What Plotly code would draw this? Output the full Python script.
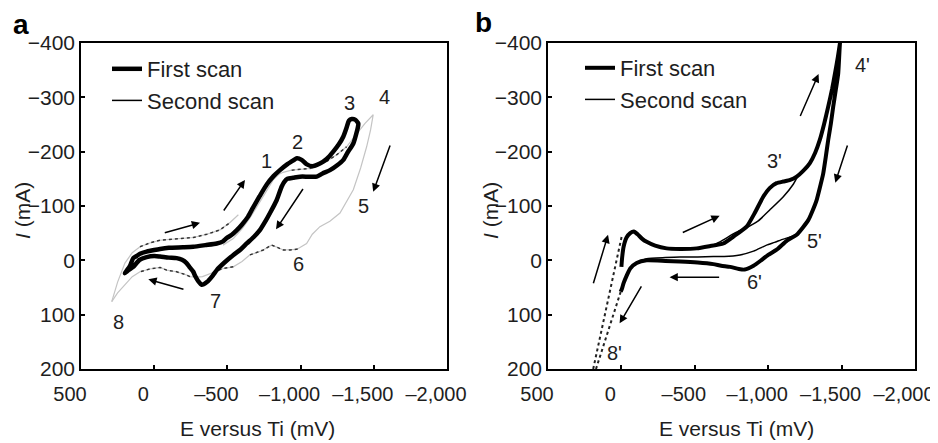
import plotly.graph_objects as go

# The page body adds an 8px margin; the figure is sized so the window shows it exactly.
PAGE_OFF = 8
W, H = 938 - PAGE_OFF, 443 - PAGE_OFF
FONT = "Liberation Sans, Arial, sans-serif"
INK = "#1e1e1e"

# ---------------- Panel a data ----------------
a_first_x = [200, 165, 143, 120, 97, 52, 0, -40, -100, -197, -267, -350, -427, -470, -495, -530, -563,
             -600, -640, -675, -720, -770, -815, -859, -910, -950, -975, -1007, -1040, -1080, -1132,
             -1180, -1223, -1260, -1292, -1315, -1330, -1350, -1372, -1394, -1392, -1387, -1360, -1320,
             -1292, -1250, -1201, -1150, -1110, -1050, -996, -950, -910, -890, -871, -837, -791, -760,
             -723, -680, -632, -590, -541, -480, -427, -400, -360, -324, -300, -280,
             -267, -240, -221, -190, -153, -100, -40, 0, 52, 100, 143, 175, 200]
a_first_y = [24, 10, -4, -8, -12, -16, -19, -21, -23, -24, -25, -28, -31, -35, -41, -47, -55,
             -66, -80, -97, -118, -140, -155, -166, -177, -184, -188, -185, -177, -173, -178,
             -187, -200, -213, -228, -245, -257, -260, -259, -252, -246, -240, -215, -198,
             -185, -175, -166, -160, -154, -154, -154, -152, -150, -145, -136, -111, -87, -72,
             -56, -43, -31, -20, -10, 4, 18, 28, 40, 45, 38, 29,
             21, 12, 5, -1, -4, -5, -7, -8, -6, -1, 12, 18, 24]

a_second_x = [290, 250, 200, 150, 97, 30, -40, -150, -267, -360, -449, -520, -575, None,
              -470, -540, -600, -654, -700, -745, -780, -813, -850, -880, -939, -1000, -1064, -1120,
              -1178, -1250, -1314, -1380, -1440, -1496, -1478, -1451, -1410, -1360, -1310, -1269,
              -1200, -1132, -1080, -1041, -973, -930, -882, -840, -802, -775, -745, -700, -654,
              -600, -540, -472, -420, -380, -330, -290, -244, -221, -153, -85, -40, 30, 97, 150,
              211, 250, 290]
a_second_y = [76, 40, 5, -14, -25, -32, -37, -40, -42, -48, -56, -70, -84, None,
              -28, -40, -58, -78, -98, -117, -133, -148, -158, -162, -166, -167, -169, -175,
              -182, -195, -209, -232, -252, -268, -240, -209, -170, -130, -105, -87,
              -72, -62, -48, -31, -20, -19, -19, -24, -28, -24, -19, -14, -10,
              2, 12, 15, 20, 24, 30, 31, 30, 27, 21, 18, 13, 16, 21, 30,
              48, 60, 76]

a_dot_x = [97, 30, -40, -150, -267, -360, -449, -520, None,
           -939, -1000, -1064, -1120, -1178, -1250, -1314, None,
           -654, -700, -745, -775, -802, -840, -882, -930, -990, None,
           -540, -472, -420, None,
           -244, -221, -153, -85, -40, 30, 97]
a_dot_y = [-25, -32, -37, -40, -42, -48, -56, -70, None,
           -166, -167, -169, -175, -182, -195, -209, None,
           -10, -14, -19, -24, -28, -24, -19, -19, -21, None,
           12, 15, 20, None,
           30, 27, 21, 18, 13, 16, 21]

a_lab_text = ["1", "2", "3", "4", "5", "6", "7", "8"]
a_lab_x = [-768, -980, -1333, -1576, -1433, -984, -422, 245]
a_lab_y = [-182, -218, -290, -300, -100, 7, 74, 113]

a_arrow_tail_x = [-62, -468, -1023, -1615, -210]
a_arrow_tail_y = [-50, -89, -134, -214, 54]
a_arrow_head_x = [-313, -620, -832, -1496, 40]
a_arrow_head_y = [-69, -148, -57, -126, 35]

# ---------------- Panel b data ----------------
b_first_x = [0, -5, -15, -35, -60, -85, -110, -140, -172, -230, -308, -400, -513, -600, -694,
             -770, -853, -910, -966, -1010, -1057, -1103, -1150, -1194, -1240, -1284,
             -1320, -1352, -1380, -1409, -1435, -1455, -1475, -1489, -1500,
             -1500, -1489, -1477, -1460, -1443, -1427, -1409, -1392, -1375, -1353, -1330, -1300,
             -1273, -1235, -1194, -1126, -1060, -1000, -952, -900, -840, -800, -740, -680,
             -626, -520, -399, -300, -172, -104, -60, -36, -15, -4, 5]
b_first_y = [12, -5, -25, -42, -50, -53, -48, -40, -34, -27, -22, -21, -22, -26, -31,
             -45, -62, -88, -117, -133, -142, -145, -148, -154, -165, -179,
             -198, -222, -250, -283, -315, -344, -375, -400, -420,
             -420, -400, -344, -313, -283, -252, -222, -190, -160, -135, -111, -90,
             -74, -60, -47, -36, -20, -10, 0, 10, 17, 16, 12, 10,
             7, 4, 2, 1, 0, 5, 15, 28, 42, 52, 58]

b_second_x = [-60, -85, -110, -140, -172, -230, -308, -400, -513, -600, -671, -771, -853,
              -930, -1012, -1103, -1171, -1205, -1240, -1284, -1320, -1352, -1380, -1409,
              -1435, -1455, -1475, -1489, -1500, None,
              -1273, -1235, -1194, -1150, -1103, -1043, -989, -900, -808, -700, -626,
              -520, -399, -300, -172, -104]
b_second_y = [-50, -53, -48, -40, -34, -27, -22, -21, -22, -26, -34, -50, -60,
              -72, -93, -117, -140, -156, -165, -179, -198, -222, -250, -283,
              -315, -344, -375, -400, -420, None,
              -74, -60, -48, -43, -39, -33, -28, -17, -10, -7, -7,
              -6, -6, -5, -3, 5]

b_dot_x = [192, -2, None, 5, 173]
b_dot_y = [200, -44, None, 58, 200]

b_lab_text = ["3'", "4'", "5'", "6'", "8'"]
b_lab_x = [-1043, -1645, -1312, -907, 46]
b_lab_y = [-182, -360, -36, 39, 171]

b_arrow_tail_x = [194, -408, -1214, -1543, -676, -142]
b_arrow_tail_y = [45, -50, -263, -214, 31, 45]
b_arrow_head_x = [91, -669, -1343, -1457, -328, 12]
b_arrow_head_y = [-47, -82, -343, -143, 31, 116]

# ---------------- Axes ticks ----------------
x_tickvals = [500, 0, -500, -1000, -1500, -2000]
x_ticktext = ["500", "0", "\u2013500", "\u20131,000", "\u20131,500", "\u20132,000"]
y_tickvals = [-400, -300, -200, -100, 0, 100, 200]
y_ticktext = ["\u2212400", "\u2212300", "\u2212200", "\u2212100", "0", "100", "200"]
x_title = "E versus Ti (mV)"
y_title = "<i>I</i> (mA)"


def fx(px):
    return (px - PAGE_OFF) / W


def fy(py):
    return 1 - (py - PAGE_OFF) / H


fig = go.Figure()

# Panel a
fig.add_trace(go.Scatter(x=a_second_x, y=a_second_y, mode="lines", xaxis="x", yaxis="y",
                         line=dict(color="#c4c4c4", width=1.2), showlegend=False, hoverinfo="skip"))
fig.add_trace(go.Scatter(x=a_dot_x, y=a_dot_y, mode="lines", xaxis="x", yaxis="y",
                         line=dict(color="#333", width=1.5, dash="dot"), showlegend=False,
                         hoverinfo="skip"))
fig.add_trace(go.Scatter(x=a_first_x, y=a_first_y, mode="lines", xaxis="x", yaxis="y",
                         line=dict(color="black", width=4.5, shape="spline", smoothing=0.6),
                         name="First scan", legend="legend"))
fig.add_trace(go.Scatter(x=[None], y=[None], mode="lines", xaxis="x", yaxis="y",
                         line=dict(color="black", width=1.5), name="Second scan", legend="legend"))

# Panel b
fig.add_trace(go.Scatter(x=b_dot_x, y=b_dot_y, mode="lines", xaxis="x2", yaxis="y2",
                         line=dict(color="#222", width=2, dash="dot"), showlegend=False,
                         hoverinfo="skip"))
fig.add_trace(go.Scatter(x=b_first_x, y=b_first_y, mode="lines", xaxis="x2", yaxis="y2",
                         line=dict(color="black", width=4, shape="spline", smoothing=0.5),
                         name="First scan", legend="legend2"))
fig.add_trace(go.Scatter(x=b_second_x, y=b_second_y, mode="lines", xaxis="x2", yaxis="y2",
                         line=dict(color="black", width=1.5, shape="spline", smoothing=0.5),
                         name="Second scan", legend="legend2"))

axis_common = dict(showline=True, mirror=True, linecolor="black", linewidth=1.5,
                   ticks="inside", ticklen=4, tickwidth=1.5, tickcolor="black",
                   showgrid=False, zeroline=False, automargin=False,
                   ticklabeloverflow="allow")
xfont = dict(family=FONT, size=20, color=INK)
yfont = dict(family=FONT, size=21, color=INK)

fig.update_layout(
    width=W, height=H,
    margin=dict(l=0, r=0, t=0, b=0),
    paper_bgcolor="white", plot_bgcolor="white",
    xaxis=dict(domain=[fx(81), fx(447)], range=[500, -2000], tickvals=x_tickvals,
               ticktext=x_ticktext, anchor="y", ticklabelstandoff=6, ticklabelshift=11,
               tickfont=xfont, **axis_common),
    yaxis=dict(domain=[fy(369), fy(43)], range=[200, -400], tickvals=y_tickvals,
               ticktext=y_ticktext, anchor="x", tickfont=yfont, **axis_common),
    xaxis2=dict(domain=[fx(548), fx(915)], range=[500, -2000], tickvals=x_tickvals,
                ticktext=x_ticktext, anchor="y2", ticklabelstandoff=6, ticklabelshift=11,
                tickfont=xfont, **axis_common),
    yaxis2=dict(domain=[fy(369), fy(43)], range=[200, -400], tickvals=y_tickvals,
                ticktext=y_ticktext, anchor="x2", tickfont=yfont, **axis_common),
    legend=dict(x=fx(107), y=fy(48), xanchor="left", yanchor="top", bgcolor="rgba(0,0,0,0)",
                font=dict(family=FONT, size=22, color=INK), tracegroupgap=0),
    legend2=dict(x=fx(580), y=fy(47), xanchor="left", yanchor="top", bgcolor="rgba(0,0,0,0)",
                 font=dict(family=FONT, size=22, color=INK), tracegroupgap=0),
)

annotations = []
for t, x, y in zip(a_lab_text, a_lab_x, a_lab_y):
    annotations.append(dict(text=t, x=x, y=y, xref="x", yref="y", showarrow=False,
                            xanchor="center", yanchor="middle",
                            font=dict(family=FONT, size=20, color=INK)))
for t, x, y in zip(b_lab_text, b_lab_x, b_lab_y):
    annotations.append(dict(text=t, x=x, y=y, xref="x2", yref="y2", showarrow=False,
                            xanchor="center", yanchor="middle",
                            font=dict(family=FONT, size=20, color=INK)))
for tx, ty, hx, hy in zip(a_arrow_tail_x, a_arrow_tail_y, a_arrow_head_x, a_arrow_head_y):
    annotations.append(dict(x=hx, y=hy, ax=tx, ay=ty, xref="x", yref="y", axref="x", ayref="y",
                            text="", showarrow=True, arrowhead=2, arrowsize=1.1, arrowwidth=1.5,
                            arrowcolor="black"))
for tx, ty, hx, hy in zip(b_arrow_tail_x, b_arrow_tail_y, b_arrow_head_x, b_arrow_head_y):
    annotations.append(dict(x=hx, y=hy, ax=tx, ay=ty, xref="x2", yref="y2", axref="x2", ayref="y2",
                            text="", showarrow=True, arrowhead=2, arrowsize=1.1, arrowwidth=1.5,
                            arrowcolor="black"))
# panel letters
annotations.append(dict(text="<b>a</b>", x=fx(21), y=fy(24), xref="paper", yref="paper",
                        xanchor="center", yanchor="middle", showarrow=False,
                        font=dict(family=FONT, size=28, color="black")))
annotations.append(dict(text="<b>b</b>", x=fx(483), y=fy(22), xref="paper", yref="paper",
                        xanchor="center", yanchor="middle", showarrow=False,
                        font=dict(family=FONT, size=28, color="black")))
# axis titles
for cx in (257, 736):
    annotations.append(dict(text=x_title, x=fx(cx), y=fy(428), xref="paper", yref="paper",
                            xanchor="center", yanchor="middle", showarrow=False,
                            font=dict(family=FONT, size=21, color=INK)))
for cx in (22, 490):
    annotations.append(dict(text=y_title, x=fx(cx), y=fy(211), xref="paper", yref="paper",
                            xanchor="center", yanchor="middle", showarrow=False, textangle=-90,
                            font=dict(family=FONT, size=21, color=INK)))
fig.update_layout(annotations=annotations)

fig.write_html("out.html")
